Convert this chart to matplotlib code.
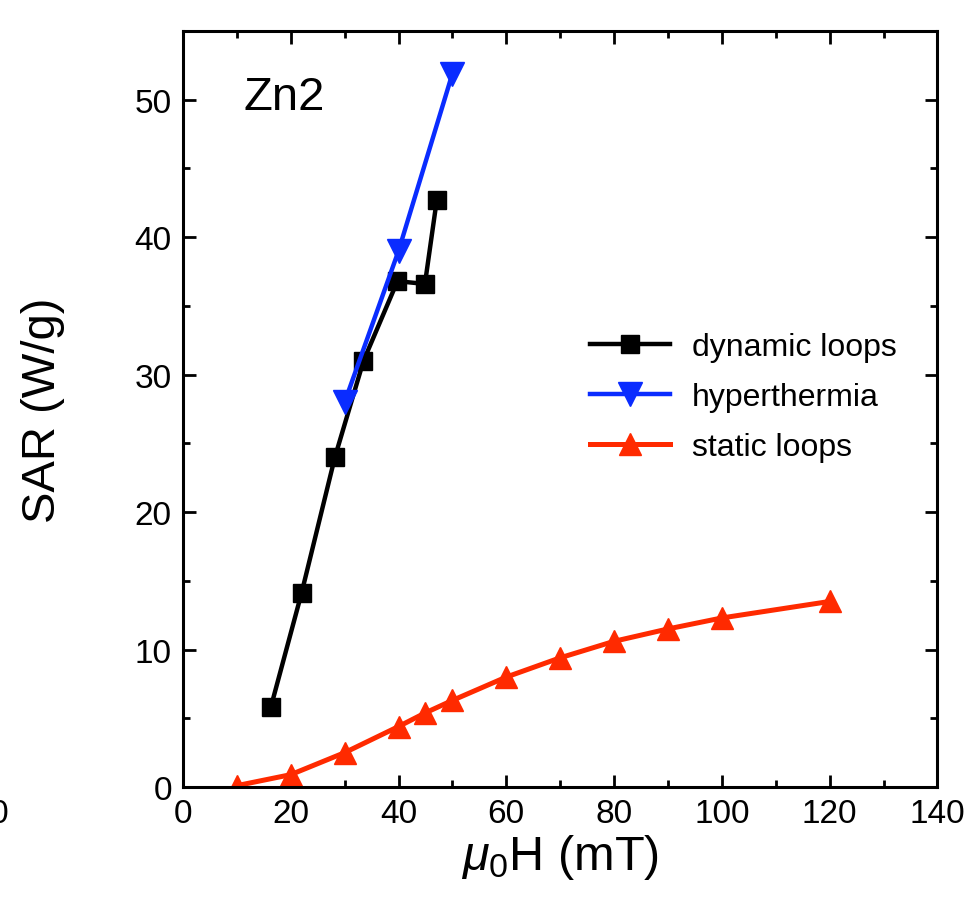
import matplotlib
matplotlib.use("Agg")
import matplotlib.pyplot as plt
from matplotlib.ticker import MultipleLocator

plt.rcParams['font.family'] = ['Liberation Sans', 'DejaVu Sans']
plt.rcParams['mathtext.fontset'] = 'custom'
plt.rcParams['mathtext.rm'] = 'Liberation Sans'
plt.rcParams['mathtext.it'] = 'Liberation Sans:italic'

# data
dyn_h = [16.3, 22.0, 28.2, 33.5, 39.8, 44.9, 47.1]
dyn_sar = [5.8, 14.1, 24.0, 31.0, 36.8, 36.6, 42.7]

hyp_h = [30, 40, 50]
hyp_sar = [28.0, 39.0, 51.9]

stat_h = [10, 20, 30, 40, 45, 50, 60, 70, 80, 90, 100, 120]
stat_sar = [0.1, 0.9, 2.5, 4.4, 5.4, 6.3, 8.0, 9.4, 10.6, 11.5, 12.3, 13.5]

fig = plt.figure(figsize=(9.65, 9.04), dpi=100)
ax = fig.add_axes([0.1896, 0.1283, 0.7818, 0.8363])

ax.plot(dyn_h, dyn_sar, color='black', lw=3.2, marker='s', ms=13,
        label='dynamic loops', zorder=3)
ax.plot(hyp_h, hyp_sar, color='#0a2cff', lw=3.2, marker='v', ms=17,
        label='hyperthermia', zorder=4)
ax.plot(stat_h, stat_sar, color='#ff2a00', lw=3.6, marker='^', ms=16,
        label='static loops', zorder=2)

ax.set_xlim(0, 140)
ax.set_ylim(0, 55)
ax.xaxis.set_major_locator(MultipleLocator(20))
ax.xaxis.set_minor_locator(MultipleLocator(10))
ax.yaxis.set_major_locator(MultipleLocator(10))
ax.yaxis.set_minor_locator(MultipleLocator(5))
ax.tick_params(which='both', direction='in', top=True, right=True,
               width=2, labelsize=24, pad=8)
ax.tick_params(which='major', length=9)
ax.tick_params(which='minor', length=5)
for sp in ax.spines.values():
    sp.set_linewidth(2.2)

ax.set_xlabel(r'$\mu_0$H (mT)', fontsize=35, labelpad=2)
ax.set_ylabel('SAR (W/g)', fontsize=34, labelpad=50)

ax.text(0.0796, 0.897, 'Zn2', transform=ax.transAxes, fontsize=34,
        va='baseline', ha='left')

ax.legend(loc='center left', bbox_to_anchor=(0.518, 0.516), frameon=False,
          fontsize=23, borderpad=0, handlelength=2.5, handletextpad=0.7,
          labelspacing=0.62)

# edge of the neighbouring panel's tick label
fig.text(0.009, 1 - 815 / 904, '140', fontsize=24, ha='right', va='center')

fig.savefig('out.png', dpi=100)
